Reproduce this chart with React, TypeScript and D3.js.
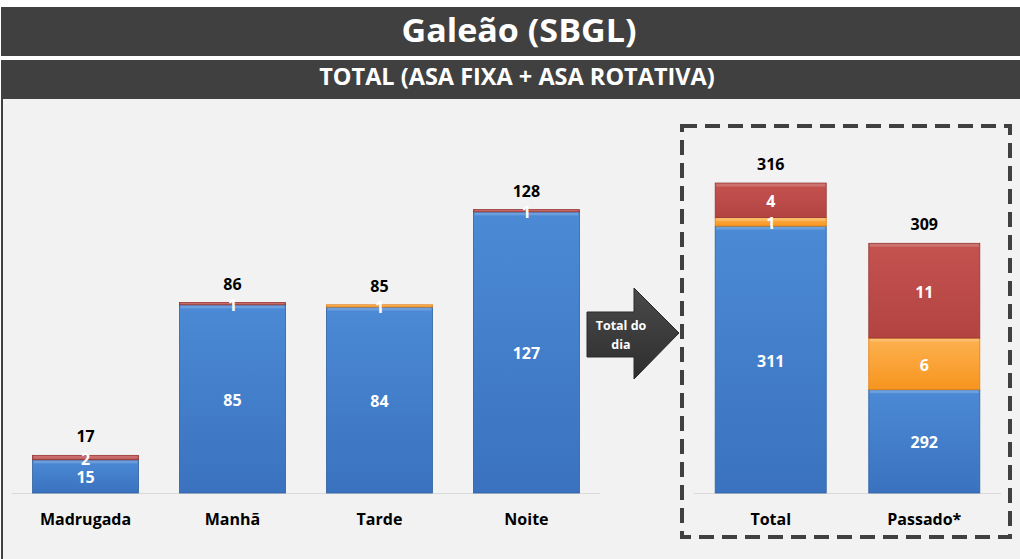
import React from 'react'
import * as d3 from 'd3'

// periods of the day (left chart)
const periods = ['Madrugada', 'Manhã', 'Tarde', 'Noite']
const periodBlue = [15, 85, 84, 127]
const periodOrange = [0, 0, 1, 0]
const periodRed = [2, 1, 0, 1]

// day total vs past (right chart)
const summary = ['Total', 'Passado*']
const summaryBlue = [311, 292]
const summaryOrange = [1, 6]
const summaryRed = [4, 11]

const keys = ['blue', 'orange', 'red']
const grads: Record<string, [string, string, string]> = {
  blue: ['#4c8ad6', '#3a72bf', '#2f5f9f'],
  orange: ['#fdb14f', '#f7951f', '#e07f10'],
  red: ['#c45350', '#b34341', '#943533'],
}

const font = '"Open Sans", "DejaVu Sans", sans-serif'

function rows(cats: string[], b: number[], o: number[], r: number[]) {
  return cats.map((c, i) => ({ cat: c, blue: b[i], orange: o[i], red: r[i] }))
}

function StackedBars(props: { data: any[]; x: d3.ScaleBand<string>; y: d3.ScaleLinear<number, number>; base: number }) {
  const { data, x, y, base } = props
  const series = d3.stack<any>().keys(keys)(data)
  return (
    <g>
      {series.map(s => (
        <g key={s.key}>
          {s.map((d, i) => {
            const v = d[1] - d[0]
            if (v <= 0) return null
            const top = y(d[1])
            const bot = d[0] === 0 ? base : y(d[0])
            return (
              <g key={i}>
                <rect x={x(d.data.cat)} y={top} width={x.bandwidth()} height={bot - top}
                  fill={`url(#g-${s.key})`} stroke={grads[s.key][2]} strokeWidth={0.8} />
                <rect x={x(d.data.cat)! + 1} y={top + 0.5} width={x.bandwidth() - 2} height={Math.min(3, bot - top - 1)}
                  fill="#fff" opacity={0.18} />
              </g>
            )
          })}
        </g>
      ))}
      {series.map(s => s.map((d, i) => {
        const v = d[1] - d[0]
        if (v <= 0) return null
        const bot = d[0] === 0 ? base : y(d[0])
        return (
          <text key={s.key + i} x={x(d.data.cat)! + x.bandwidth() / 2} y={(y(d[1]) + bot) / 2 + 1}
            textAnchor="middle" dominantBaseline="central" fill="#fff" fontWeight="bold" fontSize={16} fontFamily={font}>
            {v}
          </text>
        )
      }))}
      {data.map(d => {
        const total = d.blue + d.orange + d.red
        return (
          <text key={d.cat} x={x(d.cat)! + x.bandwidth() / 2} y={y(total) - 19}
            textAnchor="middle" dominantBaseline="central" fill="#000" fontWeight="bold" fontSize={16} fontFamily={font}>
            {total}
          </text>
        )
      })}
      {data.map(d => (
        <text key={'l' + d.cat} x={x(d.cat)! + x.bandwidth() / 2} y={base + 26}
          textAnchor="middle" dominantBaseline="central" fill="#000" fontWeight="bold" fontSize={16} fontFamily={font}>
          {d.cat}
        </text>
      ))}
    </g>
  )
}

export default function App() {
  const W = 1020, H = 559
  const base = 493

  const leftData = rows(periods, periodBlue, periodOrange, periodRed)
  const rightData = rows(summary, summaryBlue, summaryOrange, summaryRed)

  const xL = d3.scaleBand().domain(periods).range([12, 600]).paddingInner(0.279).paddingOuter(0.14)
  const yL = d3.scaleLinear().domain([0, 140]).range([base, base - 140 * 2.214])

  const xR = d3.scaleBand().domain(summary).range([694, 1001]).paddingInner(0.277).paddingOuter(0.138)
  // right chart axis starts at 280
  const yR = d3.scaleLinear().domain([280, 320]).range([base, base - 40 * 8.61]).clamp(true)

  return (
    <svg width={W} height={H} style={{ position: 'absolute', left: 0, top: 0, display: 'block' }}>
      <defs>
        {keys.map(k => (
          <linearGradient key={k} id={`g-${k}`} x1="0" y1="0" x2="0" y2="1">
            <stop offset="0" stopColor={grads[k][0]} />
            <stop offset="1" stopColor={grads[k][1]} />
          </linearGradient>
        ))}
        <linearGradient id="arrowG" x1="0" y1="0" x2="0" y2="1">
          <stop offset="0" stopColor="#4a4a4a" />
          <stop offset="1" stopColor="#2e2e2e" />
        </linearGradient>
      </defs>
      <rect x={0} y={0} width={W} height={H} fill="#fff" />
      <rect x={1} y={7} width={W - 1} height={H - 7} fill="#f2f2f2" />
      <rect x={1} y={7} width={2} height={H - 7} fill="#404040" />
      <rect x={1} y={7} width={W - 1} height={49} fill="#404040" />
      <rect x={1} y={56} width={W - 1} height={4} fill="#fff" />
      <rect x={1} y={60} width={W - 1} height={39} fill="#404040" />
      <text x={519} y={42} textAnchor="middle" fill="#fff" fontWeight="bold" fontSize={32} fontFamily={font}
        textLength={235} lengthAdjust="spacingAndGlyphs">
        Galeão (SBGL)
      </text>
      <text x={517} y={85} textAnchor="middle" fill="#fff" fontWeight="bold" fontSize={23.5} fontFamily={font}>
        TOTAL (ASA FIXA + ASA ROTATIVA)
      </text>

      <line x1={12} x2={600} y1={base + 0.5} y2={base + 0.5} stroke="#d9d9d9" />
      <line x1={694} x2={1001} y1={base + 0.5} y2={base + 0.5} stroke="#d9d9d9" />

      <StackedBars data={leftData} x={xL} y={yL} base={base} />
      <StackedBars data={rightData} x={xR} y={yR} base={base} />

      <rect x={682} y={126} width={328} height={411} fill="none" stroke="#404040" strokeWidth={4} strokeDasharray="15 8" />

      <path d="M587,312 L634,312 L634,288 L679,333 L634,379 L634,357 L587,357 Z"
        fill="url(#arrowG)" stroke="#2a2a2a" strokeWidth={1} />
      <text x={621} y={325} textAnchor="middle" dominantBaseline="central" fill="#fff" fontWeight="bold" fontSize={12.5} fontFamily={font}>Total do</text>
      <text x={621} y={344} textAnchor="middle" dominantBaseline="central" fill="#fff" fontWeight="bold" fontSize={12.5} fontFamily={font}>dia</text>
    </svg>
  )
}
